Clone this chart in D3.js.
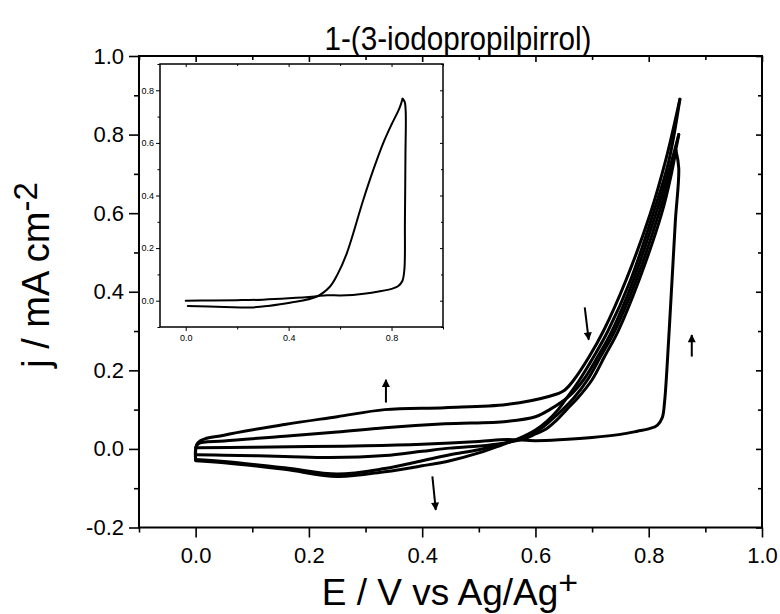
<!DOCTYPE html>
<html>
<head>
<meta charset="utf-8">
<script src="https://cdn.jsdelivr.net/npm/d3@7"></script>
<style>
  body { margin: 0; background: #fff; }
  svg { font-family: "Liberation Sans", Arial, sans-serif; }
  .curve { fill: none; stroke: #000; stroke-linejoin: round; stroke-linecap: round; }
</style>
</head>
<body>
<svg id="chart" width="780" height="614"></svg>
<script>
// ---- data (E / V, j / mA cm-2) ----
const cycle1Fwd = [[0.0,0.003],[0.1,0.004],[0.2,0.006],[0.3,0.008],[0.4,0.012],[0.5,0.019],[0.55,0.024],[0.6,0.021],[0.65,0.024],[0.7,0.029],[0.75,0.037],[0.78,0.045],[0.8,0.051],[0.815,0.06],[0.824,0.08],[0.828,0.12],[0.832,0.2],[0.84,0.4],[0.847,0.58],[0.853,0.715],[0.848,0.76]];
const cycle1Rev = [[0.848,0.76],[0.84,0.7],[0.823,0.6],[0.783,0.43],[0.746,0.3],[0.722,0.235],[0.7,0.176],[0.675,0.13],[0.655,0.1],[0.635,0.07],[0.618,0.05],[0.6,0.038],[0.585,0.028],[0.57,0.022],[0.53,0.012],[0.49,0.006],[0.449,0.002],[0.4,-0.006],[0.334,-0.017],[0.237,-0.022],[0.157,-0.019],[0.05,-0.016],[0.0,-0.015]];
const cycle2Fwd = [[0.0,-0.015],[0.004,0.012],[0.05,0.02],[0.157,0.032],[0.25,0.043],[0.334,0.054],[0.44,0.064],[0.549,0.07],[0.6,0.082],[0.625,0.1],[0.66,0.135],[0.685,0.176],[0.71,0.235],[0.735,0.3],[0.773,0.43],[0.813,0.6],[0.84,0.73],[0.853,0.8]];
const cycle2Rev = [[0.853,0.8],[0.843,0.73],[0.818,0.6],[0.778,0.43],[0.74,0.3],[0.715,0.235],[0.692,0.176],[0.668,0.13],[0.648,0.1],[0.625,0.07],[0.608,0.05],[0.58,0.03],[0.55,0.016],[0.5,-0.002],[0.449,-0.015],[0.4,-0.03],[0.334,-0.05],[0.25,-0.064],[0.157,-0.048],[0.05,-0.032],[0.0,-0.027]];
const cycle3Fwd = [[0.0,-0.027],[0.004,0.016],[0.05,0.035],[0.157,0.062],[0.25,0.082],[0.334,0.1],[0.44,0.105],[0.549,0.113],[0.625,0.134],[0.65,0.148],[0.668,0.176],[0.695,0.235],[0.72,0.3],[0.76,0.43],[0.803,0.6],[0.83,0.735],[0.855,0.89]];
const cycle3Rev = [[0.855,0.89],[0.835,0.73],[0.808,0.6],[0.768,0.43],[0.728,0.3],[0.703,0.235],[0.678,0.176],[0.658,0.135],[0.64,0.1],[0.62,0.07],[0.6,0.048],[0.57,0.026],[0.54,0.01],[0.5,-0.01],[0.449,-0.03],[0.4,-0.043],[0.334,-0.058],[0.25,-0.07],[0.157,-0.052],[0.05,-0.035],[0.0,-0.03]];
const mainSeries = [cycle1Fwd, cycle1Rev, cycle2Fwd, cycle2Rev, cycle3Fwd, cycle3Rev];

// first cycle alone (inset)
const insetFwd = [[0.0,0.0],[0.1,0.001],[0.2,0.002],[0.3,0.004],[0.4,0.009],[0.5,0.016],[0.55,0.021],[0.6,0.02],[0.65,0.022],[0.7,0.027],[0.75,0.035],[0.8,0.045],[0.825,0.055],[0.842,0.075],[0.85,0.12],[0.852,0.3],[0.854,0.55],[0.855,0.72],[0.851,0.756],[0.843,0.768]];
const insetRev = [[0.843,0.768],[0.83,0.73],[0.8,0.67],[0.768,0.6],[0.73,0.5],[0.69,0.383],[0.626,0.18],[0.59,0.1],[0.561,0.054],[0.51,0.016],[0.405,-0.008],[0.32,-0.02],[0.25,-0.026],[0.15,-0.024],[0.008,-0.02]];

// arrows: [E tail, j tail, E head, j head]
const arrows = [[0.336,0.118,0.336,0.176],[0.687,0.36,0.694,0.278],[0.876,0.235,0.876,0.29],[0.418,-0.07,0.424,-0.155]];

const xMajor = [0.0,0.2,0.4,0.6,0.8,1.0];
const xMinor = [-0.1,0.1,0.3,0.5,0.7,0.9];
const yMajor = [-0.2,0.0,0.2,0.4,0.6,0.8,1.0];
const yMinor = [-0.1,0.1,0.3,0.5,0.7,0.9];
const insetXMajor = [0.0,0.4,0.8];
const insetXMinor = [0.2,0.6,1.0];
const insetYMajor = [0.0,0.2,0.4,0.6,0.8];
const insetYMinor = [-0.1,0.1,0.3,0.5,0.7,0.9];

const title = "1-(3-iodopropilpirrol)";

const svg = d3.select("#chart");
const fmt = d => d.toFixed(1);

const x = d3.scaleLinear().domain([-0.1, 1.0]).range([139, 762]);
const y = d3.scaleLinear().domain([-0.2, 1.0]).range([527.5, 56]);

function drawAxes(g, xs, ys, o) {
  const [x0, x1] = xs.range(), [y0, y1] = ys.range();
  const add = (axis, tr) => {
    const a = g.append("g").attr("transform", tr).call(axis);
    a.select(".domain").remove();
    a.selectAll("line").attr("stroke", "#000").attr("stroke-width", o.tw);
    a.selectAll("text").attr("fill", "#000").attr("font-size", o.fs).attr("font-family", null);
    return a;
  };
  // bottom
  add(d3.axisBottom(xs).tickValues(o.xMajor).tickSize(o.maj).tickPadding(o.padX).tickFormat(fmt), `translate(0,${y0})`);
  add(d3.axisBottom(xs).tickValues(o.xMinor).tickSize(o.min).tickFormat(""), `translate(0,${y0})`);
  // left
  add(d3.axisLeft(ys).tickValues(o.yMajor).tickSize(o.maj).tickPadding(o.padY).tickFormat(fmt), `translate(${x0},0)`);
  add(d3.axisLeft(ys).tickValues(o.yMinor).tickSize(o.min).tickFormat(""), `translate(${x0},0)`);
  // top + right, short ticks pointing inside
  add(d3.axisTop(xs).tickValues(o.xMajor).tickSize(-o.inMaj).tickFormat(""), `translate(0,${y1})`);
  add(d3.axisTop(xs).tickValues(o.xMinor).tickSize(-o.inMin).tickFormat(""), `translate(0,${y1})`);
  add(d3.axisRight(ys).tickValues(o.yMajor).tickSize(-o.inMaj).tickFormat(""), `translate(${x1},0)`);
  add(d3.axisRight(ys).tickValues(o.yMinor).tickSize(-o.inMin).tickFormat(""), `translate(${x1},0)`);
  g.append("rect")
    .attr("x", x0).attr("y", y1).attr("width", x1 - x0).attr("height", y0 - y1)
    .attr("fill", "none").attr("stroke", "#000").attr("stroke-width", o.fw);
}

// main frame
drawAxes(svg.append("g"), x, y, {
  xMajor, xMinor, yMajor, yMinor, maj: 10, min: 5, inMaj: 6, inMin: 4,
  tw: 1.6, fw: 2, fs: 22, padX: 10, padY: 5
});

const line = d3.line().x(d => x(d[0])).y(d => y(d[1])).curve(d3.curveCatmullRom.alpha(0.5));
svg.append("g").selectAll("path")
  .data(mainSeries)
  .join("path")
  .attr("class", "curve")
  .attr("stroke-width", 3)
  .attr("d", line);

// arrows
svg.append("defs").append("marker")
  .attr("id", "head").attr("viewBox", "0 0 10 10")
  .attr("refX", 9).attr("refY", 5)
  .attr("markerWidth", 12).attr("markerHeight", 8)
  .attr("markerUnits", "userSpaceOnUse")
  .attr("orient", "auto")
  .append("path").attr("d", "M0,0 L10,5 L0,10 Z").attr("fill", "#000");

svg.append("g").selectAll("line")
  .data(arrows)
  .join("line")
  .attr("x1", d => x(d[0])).attr("y1", d => y(d[1]))
  .attr("x2", d => x(d[2])).attr("y2", d => y(d[3]))
  .attr("stroke", "#000").attr("stroke-width", 2)
  .attr("marker-end", "url(#head)");

// inset
const xi = d3.scaleLinear().domain([-0.1, 1.0]).range([160, 443]);
const yi = d3.scaleLinear().domain([-0.1, 0.9]).range([327, 64]);
const inset = svg.append("g");
inset.append("rect").attr("x", 160).attr("y", 64).attr("width", 283).attr("height", 263).attr("fill", "#fff");
drawAxes(inset, xi, yi, {
  xMajor: insetXMajor, xMinor: insetXMinor, yMajor: insetYMajor, yMinor: insetYMinor,
  maj: 4, min: 2.5, inMaj: 3, inMin: 2, tw: 1, fw: 1.5, fs: 9, padX: 4, padY: 2
});
const lineI = d3.line().x(d => xi(d[0])).y(d => yi(d[1])).curve(d3.curveCatmullRom.alpha(0.5));
inset.selectAll("path.curve")
  .data([insetFwd, insetRev])
  .join("path")
  .attr("class", "curve")
  .attr("stroke-width", 2)
  .attr("d", lineI);

// titles
svg.append("text")
  .attr("x", 458).attr("y", 50)
  .attr("text-anchor", "middle")
  .attr("font-size", 33)
  .attr("textLength", 267)
  .attr("lengthAdjust", "spacingAndGlyphs")
  .text(title);

const xl = svg.append("text")
  .attr("x", 450).attr("y", 605)
  .attr("text-anchor", "middle")
  .attr("font-size", 37);
xl.append("tspan").text("E / V vs Ag/Ag");
xl.append("tspan").attr("dy", -11).attr("font-size", 34).text("+");

const yl = svg.append("text")
  .attr("transform", "translate(49,275) rotate(-90)")
  .attr("text-anchor", "middle")
  .attr("font-size", 38);
yl.append("tspan").text("j / mA cm");
yl.append("tspan").attr("dy", -12).attr("font-size", 33).text("-2");
</script>
</body>
</html>
